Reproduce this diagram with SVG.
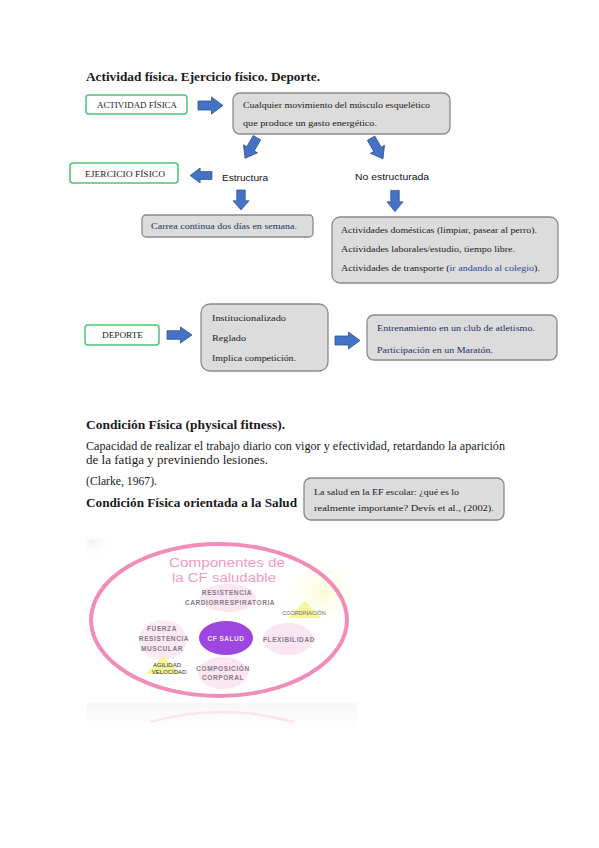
<svg xmlns="http://www.w3.org/2000/svg" width="599" height="848" viewBox="0 0 599 848">
<style>
.serif{font-family:"Liberation Serif","DejaVu Serif",serif;fill:#1a1a1a}
.b{font-weight:bold}
.h{font-size:13px}
.body{font-size:12px}
.small{font-size:8.5px}
.sans{font-family:"Liberation Sans","DejaVu Sans",sans-serif;font-size:9px;fill:#111}
.gbox{fill:#ffffff;stroke:#4cc274;stroke-width:1.5}
.box{fill:#dcdcdc;stroke:#8a8a8a;stroke-width:1.3}
.navy{fill:#1f3060}
.lnk{fill:#2a4a9a}
.arr{fill:#4472c4;stroke:#2f528f;stroke-width:0.8}
.comp{font-family:"Liberation Sans","DejaVu Sans",sans-serif;font-weight:bold;font-size:6.5px;fill:#857a88;letter-spacing:0.6px}
</style>
<defs>
<path id="arrow" d="M-12.5,-4.5 H1 V-8.5 L12.5,0 L1,8.5 V4.5 H-12.5 Z"/>
<linearGradient id="refl" x1="0" y1="0" x2="0" y2="1">
<stop offset="0" stop-color="#f4f4f4"/>
<stop offset="1" stop-color="#ffffff"/>
</linearGradient>
<radialGradient id="yel" cx="0.5" cy="0.5" r="0.5">
<stop offset="0" stop-color="#fbfbd2"/>
<stop offset="1" stop-color="#ffffff" stop-opacity="0"/>
</radialGradient>
<radialGradient id="pnk" cx="0.5" cy="0.5" r="0.5">
<stop offset="0" stop-color="#fcecf4"/>
<stop offset="1" stop-color="#ffffff" stop-opacity="0"/>
</radialGradient>
<clipPath id="imgclip"><rect x="87" y="538" width="270" height="156"/></clipPath>
</defs>
<rect width="599" height="848" fill="#ffffff"/>

<text class="serif b h" x="86" y="81" textLength="234" lengthAdjust="spacingAndGlyphs">Actividad física. Ejercicio físico. Deporte.</text>

<g id="actividad-fisica">
<rect class="gbox" x="86" y="95" width="101" height="19" rx="3"/>
<text class="serif" x="97" y="107.5" font-size="8" textLength="80" lengthAdjust="spacingAndGlyphs">ACTIVIDAD FÍSICA</text>
</g>

<g id="definicion">
<rect class="box" x="233" y="93" width="217" height="41" rx="7"/>
<text class="serif small" x="243" y="108" textLength="187" lengthAdjust="spacingAndGlyphs">Cualquier movimiento del músculo esquelético</text>
<text class="serif small" x="243" y="126" textLength="134" lengthAdjust="spacingAndGlyphs">que produce un gasto  energético.</text>
</g>

<g id="ejercicio-fisico">
<rect class="gbox" x="70" y="163" width="108" height="20" rx="3"/>
<text class="serif" x="85" y="176.5" font-size="8" textLength="80" lengthAdjust="spacingAndGlyphs">EJERCICIO FÍSICO</text>
</g>

<g id="estructura">
<text class="sans" x="222" y="181" textLength="46" lengthAdjust="spacingAndGlyphs">Estructura</text>
</g>
<g id="no-estructurada">
<text class="sans" x="355" y="179.5" textLength="74" lengthAdjust="spacingAndGlyphs">No estructurada</text>
</g>

<g id="carrera">
<rect class="box" x="142" y="215" width="171" height="22" rx="4"/>
<text class="serif small navy" x="151" y="229" textLength="146" lengthAdjust="spacingAndGlyphs">Carrea continua dos días en semana.</text>
</g>

<g id="actividades">
<rect class="box" x="332" y="217" width="226" height="66" rx="8"/>
<text class="serif small" x="341" y="233" textLength="196" lengthAdjust="spacingAndGlyphs">Actividades domésticas (limpiar, pasear al perro).</text>
<text class="serif small" x="341" y="252" textLength="174" lengthAdjust="spacingAndGlyphs">Actividades laborales/estudio, tiempo libre.</text>
<text class="serif small" x="341" y="271" textLength="199" lengthAdjust="spacingAndGlyphs">Actividades de transporte (<tspan class="lnk">ir andando al colegio</tspan>).</text>
</g>

<g id="deporte">
<rect class="gbox" x="85" y="325" width="74" height="20" rx="3"/>
<text class="serif" x="102" y="338" font-size="8" textLength="41" lengthAdjust="spacingAndGlyphs">DEPORTE</text>
</g>

<g id="caracteristicas">
<rect class="box" x="201" y="304" width="127" height="67" rx="9"/>
<text class="serif small" x="212" y="321" textLength="74" lengthAdjust="spacingAndGlyphs">Institucionalizado</text>
<text class="serif small" x="212" y="341" textLength="34" lengthAdjust="spacingAndGlyphs">Reglado</text>
<text class="serif small" x="212" y="361" textLength="84" lengthAdjust="spacingAndGlyphs">Implica competición.</text>
</g>

<g id="ejemplos">
<rect class="box" x="367" y="315" width="190" height="45" rx="7"/>
<text class="serif small navy" x="377" y="331" textLength="158" lengthAdjust="spacingAndGlyphs">Entrenamiento en un club de atletismo.</text>
<text class="serif small navy" x="377" y="353" textLength="116" lengthAdjust="spacingAndGlyphs">Participación en un Maratón.</text>
</g>

<g id="connectors">
<use href="#arrow" class="arr" transform="translate(210.5,105.5)"/>
<use href="#arrow" class="arr" transform="translate(251,148) rotate(120) scale(0.95)"/>
<use href="#arrow" class="arr" transform="translate(377,148.5) rotate(60) scale(0.95)"/>
<use href="#arrow" class="arr" transform="translate(201,175.5) rotate(180) scale(0.88,0.88)"/>
<use href="#arrow" class="arr" transform="translate(241,200) rotate(90) scale(0.8,0.95)"/>
<use href="#arrow" class="arr" transform="translate(395,201) rotate(90) scale(0.85,0.95)"/>
<use href="#arrow" class="arr" transform="translate(179.5,335) scale(1,0.95)"/>
<use href="#arrow" class="arr" transform="translate(347.5,340.5)"/>
</g>

<text class="serif b h" x="86" y="429" textLength="199" lengthAdjust="spacingAndGlyphs">Condición Física (physical fitness).</text>
<text class="serif body" x="86" y="450" textLength="419" lengthAdjust="spacingAndGlyphs">Capacidad de realizar el trabajo diario con vigor y efectividad, retardando la aparición</text>
<text class="serif body" x="86" y="464" textLength="182" lengthAdjust="spacingAndGlyphs">de la fatiga y previniendo lesiones.</text>
<text class="serif body" x="86" y="485" textLength="71" lengthAdjust="spacingAndGlyphs">(Clarke, 1967).</text>
<text class="serif b h" x="86" y="507" textLength="211" lengthAdjust="spacingAndGlyphs">Condición Física orientada a la Salud</text>

<g id="cita">
<rect class="box" x="304" y="478" width="200" height="42" rx="7"/>
<text class="serif small" x="314" y="495" textLength="145" lengthAdjust="spacingAndGlyphs">La salud en la EF escolar: ¿qué es lo</text>
<text class="serif small" x="314" y="511" textLength="180" lengthAdjust="spacingAndGlyphs">realmente importante?  Devís et al., (2002).</text>
</g>

<g id="imagen-componentes">
<g clip-path="url(#imgclip)">
<rect x="87" y="538" width="270" height="156" fill="#ffffff"/>
<ellipse cx="92" cy="542" rx="22" ry="16" fill="url(#pnk)"/>
<ellipse cx="322" cy="592" rx="42" ry="36" fill="url(#yel)"/>
</g>
<ellipse cx="219" cy="620" rx="128" ry="76" fill="none" stroke="#f28cb9" stroke-width="4"/>
<text x="227" y="567" text-anchor="middle" font-family="'Liberation Sans','DejaVu Sans',sans-serif" font-size="12.5" fill="#f29bc2" textLength="116" lengthAdjust="spacingAndGlyphs">Componentes de</text>
<text x="224" y="582" text-anchor="middle" font-family="'Liberation Sans','DejaVu Sans',sans-serif" font-size="12.5" fill="#f29bc2" textLength="104" lengthAdjust="spacingAndGlyphs">la CF saludable</text>
<ellipse cx="228" cy="598" rx="28" ry="14" fill="#fbe6f1"/>
<text class="comp" x="227" y="595" text-anchor="middle">RESISTENCIA</text>
<text class="comp" x="230" y="605" text-anchor="middle">CARDIORRESPIRATORIA</text>
<polygon points="305,601 288,618 321,618" fill="#f5f38a" opacity="0.85"/>
<text x="304" y="615" text-anchor="middle" font-family="'Liberation Sans','DejaVu Sans',sans-serif" font-size="5.5" fill="#6e6a6e">COORDINACIÓN</text>
<ellipse cx="163" cy="640" rx="24" ry="20" fill="#fbe9f3"/>
<text class="comp" x="162" y="631" text-anchor="middle">FUERZA</text>
<text class="comp" x="164" y="641" text-anchor="middle">RESISTENCIA</text>
<text class="comp" x="162" y="651" text-anchor="middle">MUSCULAR</text>
<ellipse cx="226" cy="638" rx="27" ry="17" fill="#9d46e0"/>
<text x="226" y="640.5" text-anchor="middle" font-family="'Liberation Sans','DejaVu Sans',sans-serif" font-weight="bold" font-size="6.5" fill="#f4e8ff" letter-spacing="0.5">CF SALUD</text>
<ellipse cx="288" cy="639" rx="25" ry="16" fill="#fbe6f1"/>
<text class="comp" x="289" y="642" text-anchor="middle">FLEXIBILIDAD</text>
<polygon points="163,656 146,674 181,674" fill="#f5f38a" opacity="0.85"/>
<text x="167" y="667" text-anchor="middle" font-family="'Liberation Sans','DejaVu Sans',sans-serif" font-size="6" fill="#333">AGILIDAD</text>
<text x="169" y="674" text-anchor="middle" font-family="'Liberation Sans','DejaVu Sans',sans-serif" font-size="6" fill="#333">VELOCIDAD</text>
<ellipse cx="223" cy="673" rx="25" ry="16" fill="#fbe6f1"/>
<text class="comp" x="223" y="671" text-anchor="middle">COMPOSICIÓN</text>
<text class="comp" x="223" y="680" text-anchor="middle">CORPORAL</text>
<rect x="87" y="703" width="270" height="27" fill="url(#refl)" opacity="0.7"/>
<path d="M150,722 Q222,702 294,722" fill="none" stroke="#fce3ef" stroke-width="2.5"/>
</g>
</svg>
